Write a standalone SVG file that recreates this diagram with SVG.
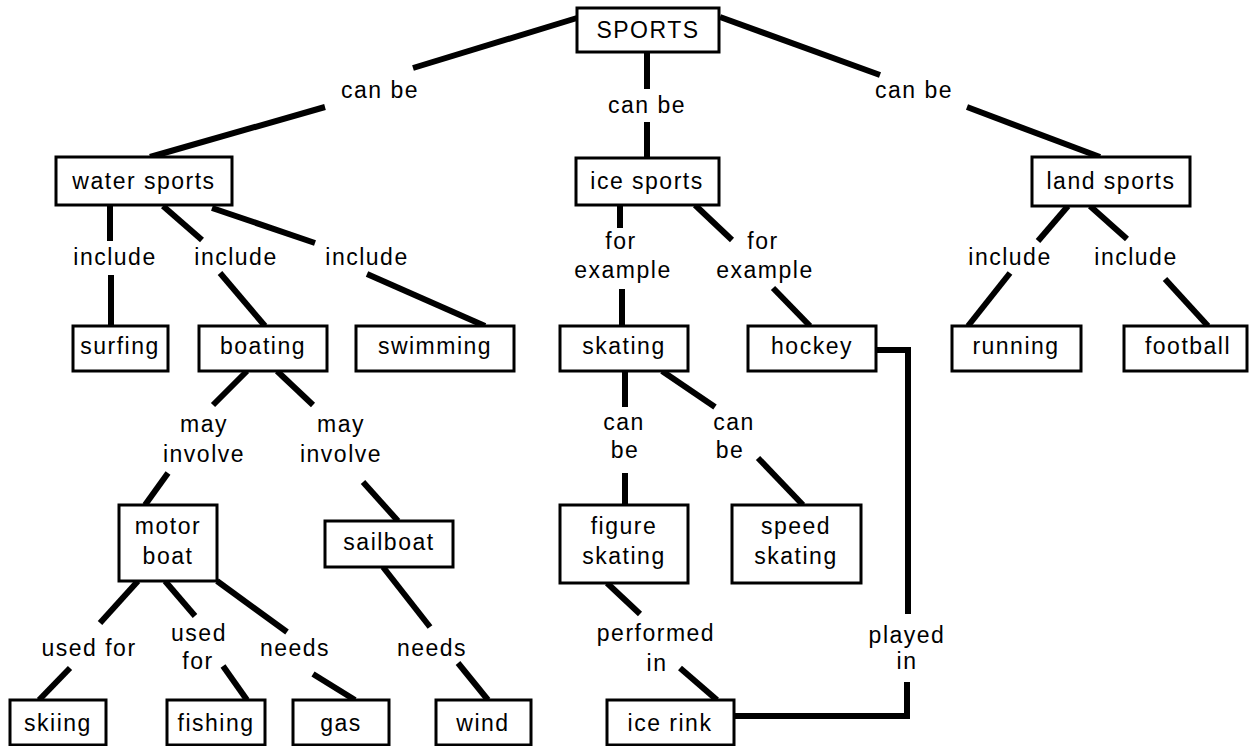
<svg xmlns="http://www.w3.org/2000/svg" width="1250" height="746" viewBox="0 0 1250 746">
<style>
.box{fill:#fff;stroke:#000;stroke-width:3}
.t{font-family:"Liberation Sans",Arial,sans-serif;font-size:23px;letter-spacing:1.5px;fill:#000;text-anchor:middle}
.c line,.c polyline{stroke:#000;stroke-width:6;fill:none}
</style>
<rect width="1250" height="746" fill="#fff"/>
<g id="connectors" class="c">
<line x1="577" y1="18" x2="413" y2="68"/>
<line x1="325" y1="107" x2="150" y2="157"/>
<line x1="647" y1="53" x2="647" y2="89"/>
<line x1="647" y1="122" x2="647" y2="158"/>
<line x1="720" y1="17" x2="880" y2="75"/>
<line x1="967" y1="107" x2="1100" y2="157"/>
<line x1="110" y1="205" x2="110" y2="241"/>
<line x1="111" y1="275" x2="111" y2="326"/>
<line x1="163" y1="206" x2="202" y2="240"/>
<line x1="220" y1="273" x2="265" y2="326"/>
<line x1="212" y1="208" x2="315" y2="243"/>
<line x1="367" y1="274" x2="485" y2="326"/>
<line x1="247" y1="371" x2="213" y2="405"/>
<line x1="277" y1="371" x2="313" y2="405"/>
<line x1="168" y1="473" x2="145" y2="505"/>
<line x1="363" y1="482" x2="398" y2="521"/>
<line x1="138" y1="581" x2="100" y2="623"/>
<line x1="70" y1="668" x2="39" y2="700"/>
<line x1="165" y1="581" x2="195" y2="616"/>
<line x1="223" y1="666" x2="247" y2="700"/>
<line x1="217" y1="581" x2="287" y2="632"/>
<line x1="313" y1="674" x2="355" y2="700"/>
<line x1="383" y1="567" x2="430" y2="627"/>
<line x1="458" y1="663" x2="488" y2="700"/>
<line x1="620" y1="205" x2="620" y2="228"/>
<line x1="622" y1="289" x2="622" y2="326"/>
<line x1="695" y1="205" x2="732" y2="240"/>
<line x1="773" y1="288" x2="810" y2="326"/>
<line x1="625" y1="371" x2="625" y2="407"/>
<line x1="625" y1="473" x2="625" y2="505"/>
<line x1="662" y1="371" x2="715" y2="407"/>
<line x1="758" y1="458" x2="803" y2="505"/>
<line x1="607" y1="583" x2="640" y2="614"/>
<line x1="680" y1="668" x2="717" y2="700"/>
<polyline points="876,350 908,350 908,614"/>
<polyline points="734,716 907,716 907,682"/>
<line x1="1068" y1="206" x2="1038" y2="241"/>
<line x1="1010" y1="273" x2="968" y2="326"/>
<line x1="1090" y1="206" x2="1127" y2="239"/>
<line x1="1165" y1="279" x2="1208" y2="326"/>
</g>
<g id="labels" class="t">
<text x="380" y="98">can be</text>
<text x="647" y="113">can be</text>
<text x="914" y="98">can be</text>
<text x="115" y="265">include</text>
<text x="236" y="265">include</text>
<text x="367" y="265">include</text>
<text x="1010" y="265">include</text>
<text x="1136" y="265">include</text>
<text x="621" y="249">for</text>
<text x="623" y="278">example</text>
<text x="763" y="249">for</text>
<text x="765" y="278">example</text>
<text x="204" y="432">may</text>
<text x="204" y="462">involve</text>
<text x="341" y="432">may</text>
<text x="341" y="462">involve</text>
<text x="624" y="430">can</text>
<text x="625" y="458">be</text>
<text x="734" y="430">can</text>
<text x="730" y="458">be</text>
<text x="89" y="656">used for</text>
<text x="199" y="641">used</text>
<text x="198" y="669">for</text>
<text x="295" y="656">needs</text>
<text x="432" y="656">needs</text>
<text x="656" y="641">performed</text>
<text x="657" y="671">in</text>
<text x="907" y="643">played</text>
<text x="907" y="669">in</text>
</g>
<g id="sports"><rect class="box" x="577" y="8" width="142" height="44"/><text class="t" x="648" y="38">SPORTS</text></g>
<g id="water-sports"><rect class="box" x="56" y="157" width="176" height="48"/><text class="t" x="144" y="189">water sports</text></g>
<g id="ice-sports"><rect class="box" x="576" y="158" width="143" height="47"/><text class="t" x="647" y="189">ice sports</text></g>
<g id="land-sports"><rect class="box" x="1032" y="157" width="158" height="49"/><text class="t" x="1111" y="189">land sports</text></g>
<g id="surfing"><rect class="box" x="73" y="326" width="95" height="45"/><text class="t" x="120" y="354">surfing</text></g>
<g id="boating"><rect class="box" x="199" y="326" width="128" height="45"/><text class="t" x="263" y="354">boating</text></g>
<g id="swimming"><rect class="box" x="356" y="326" width="158" height="45"/><text class="t" x="435" y="354">swimming</text></g>
<g id="skating"><rect class="box" x="560" y="326" width="128" height="45"/><text class="t" x="624" y="354">skating</text></g>
<g id="hockey"><rect class="box" x="748" y="326" width="128" height="45"/><text class="t" x="812" y="354">hockey</text></g>
<g id="running"><rect class="box" x="952" y="326" width="129" height="45"/><text class="t" x="1016" y="354">running</text></g>
<g id="football"><rect class="box" x="1124" y="326" width="123" height="45"/><text class="t" x="1188" y="354">football</text></g>
<g id="motor-boat"><rect class="box" x="119" y="505" width="98" height="76"/><text class="t" x="168" y="534">motor</text><text class="t" x="168" y="564">boat</text></g>
<g id="sailboat"><rect class="box" x="325" y="521" width="128" height="46"/><text class="t" x="389" y="550">sailboat</text></g>
<g id="figure-skating"><rect class="box" x="560" y="505" width="128" height="78"/><text class="t" x="624" y="534">figure</text><text class="t" x="624" y="564">skating</text></g>
<g id="speed-skating"><rect class="box" x="732" y="505" width="129" height="78"/><text class="t" x="796" y="534">speed</text><text class="t" x="796" y="564">skating</text></g>
<g id="skiing"><rect class="box" x="10" y="700" width="96" height="45"/><text class="t" x="58" y="731">skiing</text></g>
<g id="fishing"><rect class="box" x="167" y="700" width="98" height="45"/><text class="t" x="216" y="731">fishing</text></g>
<g id="gas"><rect class="box" x="293" y="700" width="96" height="45"/><text class="t" x="341" y="731">gas</text></g>
<g id="wind"><rect class="box" x="436" y="700" width="95" height="45"/><text class="t" x="483" y="731">wind</text></g>
<g id="ice-rink"><rect class="box" x="607" y="700" width="127" height="45"/><text class="t" x="670" y="731">ice rink</text></g>
</svg>
